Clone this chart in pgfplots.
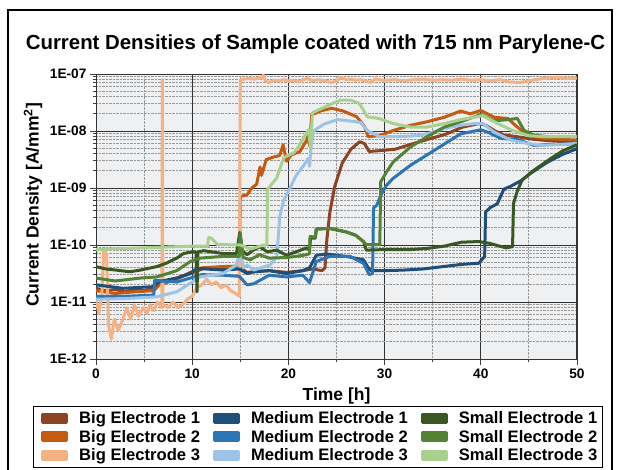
\documentclass[border=0pt]{standalone}
\usepackage{fontspec}
\setmainfont{Liberation Sans}
\usepackage{pgfplots}
\pgfplotsset{compat=1.18}

\definecolor{bigone}{HTML}{8C4425}
\definecolor{bigtwo}{HTML}{C55A11}
\definecolor{bigthree}{HTML}{F4B183}
\definecolor{medone}{HTML}{1F4E79}
\definecolor{medtwo}{HTML}{2E75B6}
\definecolor{medthree}{HTML}{9DC3E6}
\definecolor{smallone}{HTML}{385723}
\definecolor{smalltwo}{HTML}{548235}
\definecolor{smallthree}{HTML}{A9D18E}
\definecolor{plotbg}{HTML}{EFF0F2}

\begin{document}
\begin{tikzpicture}
\path[use as bounding box] (0pt,0pt) rectangle (619pt,470pt);
\draw[line width=1.6pt] (8pt,-10pt) -- (8pt,460pt) -- (612pt,460pt) -- (612pt,-10pt);

\node[font=\fontsize{20.4}{22}\selectfont\bfseries, anchor=base] at (315.5pt,420pt)
  {Current Densities of Sample coated with 715 nm Parylene-C};
\node[font=\fontsize{17.5}{19}\selectfont\bfseries, anchor=base] at (336.5pt,69pt) {Time [h]};
\node[font=\fontsize{17.5}{19}\selectfont\bfseries, rotate=90] at (33pt,265pt)
  {Current Density [A/mm\textsuperscript{2}]};

\begin{axis}[
  at={(96pt,111pt)}, anchor=south west,
  width=481pt, height=285pt, scale only axis,
  xmin=0, xmax=50, ymin=1e-12, ymax=1e-7,
  ymode=log,
  xtick={0,10,20,30,40,50},
  minor xtick={5,15,25,35,45},
  ytick={1e-12,1e-11,1e-10,1e-9,1e-8,1e-7},
  yticklabels={1E-12,1E-11,1E-10,1E-09,1E-08,1E-07},
  minor ytick={2e-12,3e-12,4e-12,5e-12,6e-12,7e-12,8e-12,9e-12,
               2e-11,3e-11,4e-11,5e-11,6e-11,7e-11,8e-11,9e-11,
               2e-10,3e-10,4e-10,5e-10,6e-10,7e-10,8e-10,9e-10,
               2e-9,3e-9,4e-9,5e-9,6e-9,7e-9,8e-9,9e-9,
               2e-8,3e-8,4e-8,5e-8,6e-8,7e-8,8e-8,9e-8},
  /pgf/number format/assume math mode=true,
  tick label style={font=\fontsize{13.7}{15}\selectfont\bfseries},
  tick pos=left, tick align=outside,
  major tick length=6pt, minor tick length=3.5pt,
  tick style={black!75, line width=0.9pt},
  axis line style={black!80, line width=1pt},
  axis background/.style={fill=plotbg},
  grid=both,
  major grid style={solid, black!80, line width=0.9pt},
  minor grid style={densely dotted, black!40, line width=0.8pt},
  legend columns=3, transpose legend,
  legend cell align=left,
  legend image code/.code={\fill[#1] (0pt,-4pt) rectangle (24pt,4pt);
    \path (-4.5pt,0pt) (33pt,0pt);},
  legend style={at={(0.4615,-0.165)}, anchor=north,
    font=\fontsize{16.6}{18}\selectfont\bfseries,
    draw=black, line width=1pt, fill=white,
    inner xsep=3.5pt, inner ysep=1pt, row sep=-3pt,
    nodes={inner ysep=4pt},
    /tikz/every even column/.append style={column sep=6.5pt}},
  every axis plot/.append style={line width=3pt, line join=round},
]

% Big Electrode 1
\addplot[bigone] coordinates {(0,1.74e-11) (1,1.58e-11) (2,1.66e-11) (3,1.51e-11) (4,1.66e-11) (5,1.58e-11) (6,1.74e-11) (6.6,2.14e-11) (7.5,2.40e-11) (8.4,2.63e-11) (9.8,3.16e-11) (11.2,3.89e-11) (13,3.80e-11) (14.8,4.17e-11) (15.7,3.31e-11) (16.4,3.39e-11) (18,3.55e-11) (19.8,3.31e-11) (21.5,3.55e-11) (22.5,3.80e-11) (23.5,3.55e-11) (23.8,3.98e-11) (24.0,1.26e-10) (24.3,3.63e-10) (24.8,1.05e-9) (25.6,2.75e-9) (26.5,4.79e-9) (27.4,6.46e-9) (27.9,6.03e-9) (28.4,4.37e-9) (29.8,4.57e-9) (31.1,4.79e-9) (32.8,5.89e-9) (34.6,7.24e-9) (36.3,8.71e-9) (38.1,1.17e-8) (39.8,1.35e-8) (40.5,1.26e-8) (41.5,1.0e-8) (42.4,8.51e-9) (43.8,7.94e-9) (45.2,7.24e-9) (47,6.76e-9) (50,6.31e-9)};
\addlegendentry{Big Electrode 1}

% Big Electrode 2
\addplot[bigtwo] coordinates {(0,1.58e-11) (2,1.41e-11) (4,1.51e-11) (6,1.58e-11) (6.6,2.0e-11) (8.4,2.51e-11) (9.8,3.31e-11) (11,3.98e-11) (13,4.17e-11) (14.9,4.27e-11) (15.0,7.08e-10) (15.7,7.59e-10) (16.2,1.0e-9) (16.7,1.17e-9) (17.05,2.34e-9) (17.2,1.66e-9) (17.7,3.16e-9) (18.4,3.47e-9) (19.1,3.72e-9) (19.45,5.75e-9) (19.8,2.95e-9) (20.3,3.80e-9) (21.2,4.37e-9) (21.9,6.92e-9) (22.07,8.71e-9) (22.2,5.50e-9) (22.42,1.91e-8) (23.3,2.24e-8) (24.5,2.51e-8) (25.7,2.24e-8) (27.1,1.78e-8) (27.9,1.20e-8) (28.3,7.94e-9) (29.5,8.32e-9) (30.9,1.02e-8) (32.7,1.26e-8) (34.4,1.45e-8) (36.2,1.74e-8) (37.9,2.24e-8) (38.9,2.0e-8) (40,2.29e-8) (41.4,1.74e-8) (42.8,1.66e-8) (43.8,1.17e-8) (44.9,8.32e-9) (46.6,7.41e-9) (50,6.92e-9)};
\addlegendentry{Big Electrode 2}

% Big Electrode 3
\addplot[bigthree] coordinates {(0,1.12e-11) (0.3,6.31e-12) (0.6,1.26e-11) (0.8,7.94e-11) (1.1,7.08e-11) (1.3,3.98e-12) (1.6,2.24e-12) (1.9,5.01e-12) (2.3,3.16e-12) (2.8,5.01e-12) (3.2,7.94e-12) (3.6,5.01e-12) (4.0,8.91e-12) (4.4,5.62e-12) (4.9,7.94e-12) (5.3,6.31e-12) (5.6,8.91e-12) (6.0,7.08e-12) (6.4,1e-11) (6.85,7.94e-12) (6.9,7.94e-8) (6.95,8.91e-12) (7.5,7.94e-12) (8.0,1e-11) (8.5,7.94e-12) (9.0,8.91e-12) (9.5,1.12e-11) (10.0,1.26e-11) (10.5,1.78e-11) (11.0,2.0e-11) (11.5,2.51e-11) (12.0,2.0e-11) (12.5,2.24e-11) (13.0,1.78e-11) (13.5,2.0e-11) (14.0,1.58e-11) (14.5,1.41e-11) (14.9,1.26e-11) (15.0,7.94e-8) (15.8,8.32e-8) (16.5,8.13e-8) (17.2,8.71e-8) (17.4,9.55e-8) (17.6,7.59e-8) (18.0,7.08e-8) (18.5,7.76e-8) (19.0,7.59e-8) (19.5,7.94e-8) (20.0,7.59e-8) (20.5,7.76e-8) (21.0,7.24e-8) (21.5,7.94e-8) (22.0,8.32e-8) (22.5,7.59e-8) (23.0,7.94e-8) (23.5,7.76e-8) (24.0,7.41e-8) (24.5,7.08e-8) (25.0,7.59e-8) (25.5,8.71e-8) (26.0,7.94e-8) (26.5,8.13e-8) (27.0,7.76e-8) (27.5,7.94e-8) (28.0,7.59e-8) (28.5,7.08e-8) (29.0,8.13e-8) (30.0,7.76e-8) (31.0,7.94e-8) (32.0,7.59e-8) (33.0,7.94e-8) (34.0,8.13e-8) (35.0,7.76e-8) (36.0,7.94e-8) (37.0,7.76e-8) (38.0,8.13e-8) (39.0,7.76e-8) (40.0,7.94e-8) (41.0,7.59e-8) (42.0,7.94e-8) (43.0,7.24e-8) (44.0,7.08e-8) (45.0,7.59e-8) (46.0,8.13e-8) (47.0,8.51e-8) (48.0,8.71e-8) (49.0,8.32e-8) (50.0,8.51e-8)};
\addlegendentry{Big Electrode 3}

% Medium Electrode 1
\addplot[medone] coordinates {(0,2.0e-11) (2.8,1.74e-11) (6,1.86e-11) (6.6,2.29e-11) (8.4,2.63e-11) (9.8,3.16e-11) (10.5,3.89e-11) (13.2,3.63e-11) (14.9,3.80e-11) (15.7,3.16e-11) (16.4,3.39e-11) (18,3.55e-11) (19.8,3.16e-11) (21.5,3.55e-11) (22.2,3.98e-11) (22.9,6.61e-11) (24,6.92e-11) (26,6.31e-11) (27.8,5.50e-11) (28.3,3.98e-11) (28.6,3.55e-11) (30,3.55e-11) (32,3.63e-11) (34,3.80e-11) (36,4.17e-11) (38,4.57e-11) (39.8,4.79e-11) (40.4,6.31e-11) (40.5,3.80e-10) (41,4.57e-10) (41.7,5.25e-10) (42.4,9.55e-10) (43.1,1.07e-9) (44.2,1.35e-9) (45.2,1.82e-9) (46.9,2.82e-9) (48.5,3.89e-9) (50,4.90e-9)};
\addlegendentry{Medium Electrode 1}

% Medium Electrode 2
\addplot[medtwo] coordinates {(0,1.26e-11) (3,1.26e-11) (6,1.32e-11) (6.1,2.40e-11) (8.4,2.24e-11) (9.8,2.63e-11) (11,3.02e-11) (13.2,2.95e-11) (14.9,2.82e-11) (15.7,2.0e-11) (16.4,2.09e-11) (18,2.95e-11) (19.8,2.75e-11) (21.5,2.95e-11) (22.2,2.19e-11) (22.9,5.13e-11) (24.3,6.31e-11) (26.4,6.31e-11) (27.8,4.79e-11) (28.4,3.02e-11) (28.75,3.16e-11) (28.85,4.47e-10) (29.2,5.01e-10) (29.7,8.13e-10) (30.2,1.12e-9) (30.9,1.48e-9) (32.7,2.51e-9) (34.4,3.80e-9) (36.2,5.89e-9) (37.9,8.91e-9) (40,1.05e-8) (40.7,9.55e-9) (42.1,7.41e-9) (43.8,7.08e-9) (45.5,5.62e-9) (48.3,5.89e-9) (50,6.03e-9)};
\addlegendentry{Medium Electrode 2}

% Medium Electrode 3
\addplot[medthree] coordinates {(0,1.12e-11) (3,1.15e-11) (6.3,1.23e-11) (8.4,1.51e-11) (9.8,2.14e-11) (10.8,2.75e-11) (13.2,3.16e-11) (14.6,4.47e-11) (15.0,7.94e-11) (15.3,3.98e-11) (15.7,4.47e-11) (16.4,3.63e-11) (17.5,4.17e-11) (18.1,4.47e-11) (18.8,6.31e-11) (19.1,3.16e-10) (19.5,6.03e-10) (20.2,1.02e-9) (20.8,1.66e-9) (21.6,2.51e-9) (22.05,3.31e-9) (22.2,2.40e-9) (22.35,5.25e-9) (22.6,1.0e-8) (23.7,1.32e-8) (25.1,1.58e-8) (26.7,1.48e-8) (27.5,1.41e-8) (28.2,1.02e-8) (29.5,7.94e-9) (30.9,7.94e-9) (32.7,8.13e-9) (34.4,8.91e-9) (36.2,1.10e-8) (37.9,1.26e-8) (39.3,1.35e-8) (40.2,1.35e-8) (41.4,9.55e-9) (43.1,6.92e-9) (44.9,6.03e-9) (46.6,5.62e-9) (50,6.03e-9)};
\addlegendentry{Medium Electrode 3}

% Small Electrode 1
\addplot[smallone] coordinates {(0,4.17e-11) (1,3.80e-11) (2.1,3.63e-11) (3.5,3.39e-11) (4.6,3.63e-11) (6.3,4.17e-11) (7.3,4.79e-11) (8.4,5.89e-11) (9.1,7.08e-11) (10.0,7.59e-11) (10.4,7.59e-11) (10.5,1.51e-11) (10.6,7.59e-11) (11.2,7.94e-11) (13.2,7.08e-11) (14.6,7.08e-11) (14.95,1.66e-10) (15.2,7.94e-11) (15.7,6.76e-11) (16.35,8.13e-11) (17,9.33e-11) (17.8,7.59e-11) (18.8,8.13e-11) (19.8,6.61e-11) (20.8,7.59e-11) (21.9,8.91e-11) (22.2,8.32e-11) (22.3,1.32e-10) (22.8,1.32e-10) (22.9,1.91e-10) (24.3,1.95e-10) (26,1.70e-10) (27,1.48e-10) (27.8,1.15e-10) (28.1,8.13e-11) (30,8.32e-11) (32.7,8.32e-11) (34.4,8.71e-11) (36.2,9.55e-11) (38,1.12e-10) (39.8,1.15e-10) (40.9,1.07e-10) (42.6,8.91e-11) (43.3,9.33e-11) (43.4,5.37e-10) (43.8,8.91e-10) (44.3,1.38e-9) (45.5,2.04e-9) (47.3,3.31e-9) (48.5,4.47e-9) (50,5.75e-9)};
\addlegendentry{Small Electrode 1}

% Small Electrode 2
\addplot[smalltwo] coordinates {(0,2.63e-11) (2,2.34e-11) (4.6,2.63e-11) (6.3,2.75e-11) (8.4,3.55e-11) (9.8,5.13e-11) (10.8,5.89e-11) (13.2,6.31e-11) (14.9,6.31e-11) (15.0,1.58e-10) (15.3,6.03e-11) (16,5.50e-11) (17,6.76e-11) (18,5.89e-11) (19.8,6.03e-11) (20.8,6.31e-11) (21.9,6.76e-11) (22.2,7.08e-11) (22.25,1.41e-10) (22.8,1.38e-10) (22.9,1.91e-10) (24.3,1.95e-10) (26,1.70e-10) (27,1.48e-10) (27.8,1.15e-10) (28.1,1.02e-10) (29.5,1.02e-10) (29.6,1.29e-9) (30.2,1.91e-9) (30.9,2.88e-9) (32.7,5.25e-9) (34.4,7.94e-9) (36.2,1.17e-8) (37.9,1.45e-8) (40,1.95e-8) (41.4,1.51e-8) (42.8,1.58e-8) (43.8,1.66e-8) (44.5,1.02e-8) (45.5,8.51e-9) (46.9,7.94e-9) (50,7.94e-9)};
\addlegendentry{Small Electrode 2}

% Small Electrode 3
\addplot[smallthree] coordinates {(0,8.32e-11) (5,8.91e-11) (10,9.55e-11) (11.6,9.55e-11) (11.7,1.35e-10) (12.0,1.32e-10) (12.6,1.02e-10) (15.0,1.0e-10) (16.1,8.51e-11) (17.4,1.0e-10) (17.75,1.0e-10) (17.85,9.55e-10) (18.8,1.51e-9) (19.5,3.39e-9) (20.6,4.17e-9) (21.1,5.50e-9) (21.8,8.71e-9) (22.1,1.05e-8) (22.3,5.01e-9) (22.5,2.09e-8) (24.4,2.95e-8) (25.4,3.47e-8) (26.5,3.47e-8) (27.4,3.02e-8) (28.2,1.78e-8) (29.4,1.66e-8) (30.9,1.35e-8) (32.7,1.17e-8) (34.4,1.17e-8) (36.2,1.35e-8) (37.9,1.58e-8) (39.3,1.74e-8) (40.2,1.86e-8) (41.4,1.45e-8) (43.1,1.05e-8) (44.9,8.32e-9) (46.6,7.94e-9) (50,7.94e-9)};
\addlegendentry{Small Electrode 3}

\end{axis}
\end{tikzpicture}
\end{document}
